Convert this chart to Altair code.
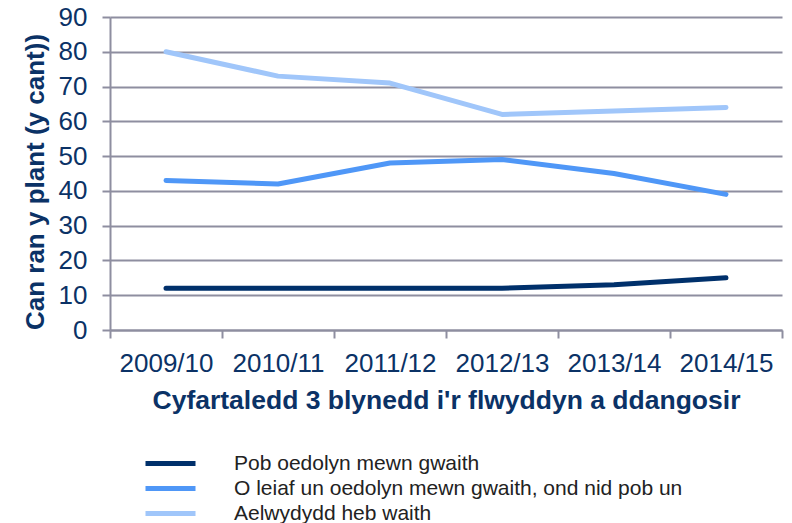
import altair as alt
import pandas as pd

years = ["2009/10", "2010/11", "2011/12", "2012/13", "2013/14", "2014/15"]
series_names = [
    "Pob oedolyn mewn gwaith",
    "O leiaf un oedolyn mewn gwaith, ond nid pob un",
    "Aelwydydd heb waith",
]
all_working = [12, 12, 12, 12, 13, 15]
some_working = [43, 42, 48, 49, 45, 39]
workless = [80, 73, 71, 62, 63, 64]
colors = ["#00306b", "#4f97f7", "#a0c6fa"]

rows = []
for name, vals in zip(series_names, [all_working, some_working, workless]):
    for y, v in zip(years, vals):
        rows.append({"year": y, "series": name, "value": v})
df = pd.DataFrame(rows)

navy = "#0b3266"
grid = "#8e8ea0"
font = "Liberation Sans"

chart = alt.Chart(df).mark_line(
    strokeWidth=5, strokeCap="round", strokeJoin="round"
).encode(
    x=alt.X(
        "year:N",
        sort=years,
        scale=alt.Scale(type="band", paddingInner=0, paddingOuter=0),
        axis=alt.Axis(
            title="Cyfartaledd 3 blynedd i'r flwyddyn a ddangosir",
            labelAngle=0,
            tickBand="extent",
            grid=False,
            domainColor=grid,
            domainWidth=2,
            tickColor=grid,
            tickWidth=2,
            tickSize=8,
            labelBaseline="alphabetic",
            labelPadding=33,
            labelFontSize=26,
            labelColor=navy,
            labelFont=font,
            titleFont=font,
            titleFontSize=26.5,
            titleFontWeight="bold",
            titleColor=navy,
            titleBaseline="alphabetic",
            titleX=336,
            titleY=78,
        ),
    ),
    y=alt.Y(
        "value:Q",
        scale=alt.Scale(domain=[0, 90], nice=False),
        axis=alt.Axis(
            title="Can ran y plant (y cant))",
            values=list(range(0, 100, 10)),
            grid=True,
            gridColor=grid,
            gridWidth=2,
            domainColor=grid,
            domainWidth=2,
            tickColor=grid,
            tickWidth=2,
            tickSize=8,
            labelPadding=15,
            labelFontSize=26,
            labelColor=navy,
            labelFont=font,
            titleFont=font,
            titleFontSize=26,
            titleFontWeight="bold",
            titleColor=navy,
            titleBaseline="alphabetic",
            titleAngle=270,
            titleX=-67,
            titleY=164.5,
        ),
    ),
    color=alt.Color(
        "series:N",
        sort=series_names,
        scale=alt.Scale(domain=series_names, range=colors),
        legend=alt.Legend(
            title=None,
            orient="none",
            legendX=50,
            legendY=436,
            padding=0,
            symbolType="M-5,0L5,0",
            symbolSize=100,
            symbolStrokeWidth=5,
            labelFont=font,
            labelFontSize=21,
            labelColor="#222222",
            labelOffset=53,
            labelLimit=0,
            rowPadding=3,
        ),
    ),
).properties(
    width=672,
    height=313,
    autosize=alt.AutoSizeParams(type="none"),
    padding={"left": 102, "top": 9, "right": 2, "bottom": 193},
).configure_view(stroke=None)

chart.save("out.html", embed_options={"renderer": "svg", "actions": False})
